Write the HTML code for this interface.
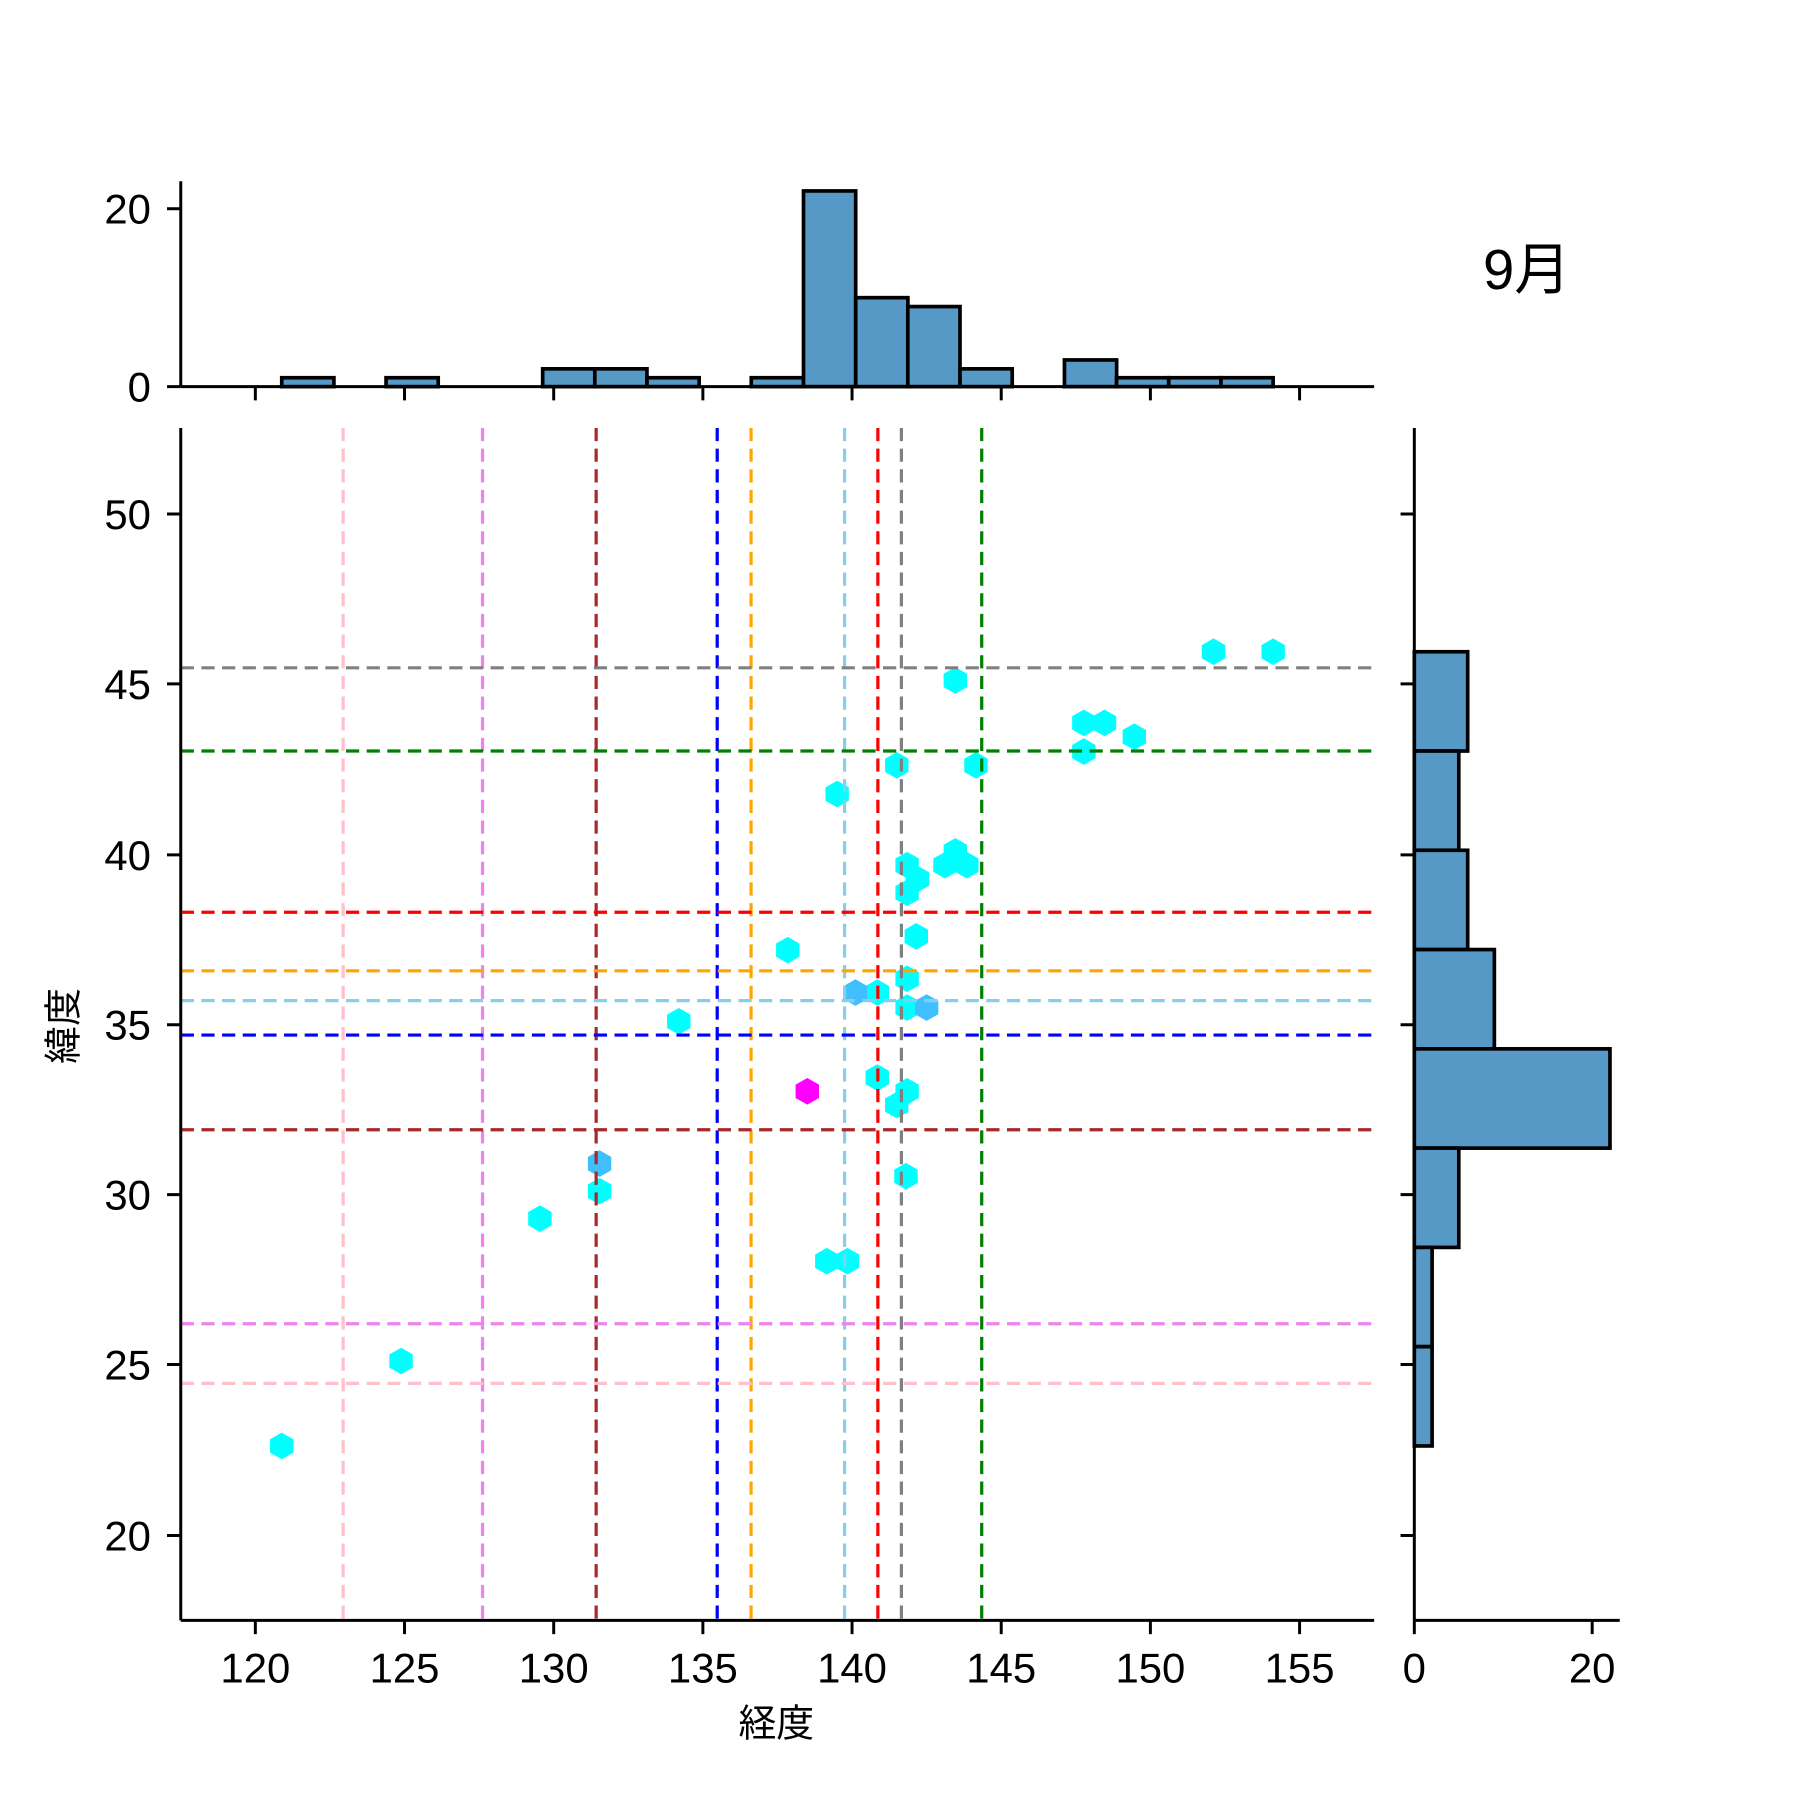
<!DOCTYPE html>
<html><head><meta charset="utf-8"><style>html,body{margin:0;padding:0;background:#fff}svg{display:block}</style></head>
<body>
<svg width="1800" height="1800" viewBox="0 0 1800 1800" xmlns="http://www.w3.org/2000/svg" font-family="'Liberation Sans','Noto Sans CJK JP',sans-serif">
<rect width="1800" height="1800" fill="#fff"/>
<defs><polygon id="h" points="0,-11.6 10.2,-5.8 10.2,5.8 0,11.6 -10.2,5.8 -10.2,-5.8"/></defs>
<g transform="translate(0.6,1) scale(1.1475,1.1477)">
<!-- top histogram bars -->
<g fill="#5799c6" stroke="#000" stroke-width="3.2">
<rect x="245.0" y="328.25" width="45.47" height="7.75"/>
<rect x="335.9" y="328.25" width="45.47" height="7.75"/>
<rect x="472.4" y="320.5" width="45.47" height="15.5"/>
<rect x="517.8" y="320.5" width="45.47" height="15.5"/>
<rect x="563.3" y="328.25" width="45.47" height="7.75"/>
<rect x="654.2" y="328.25" width="45.47" height="7.75"/>
<rect x="699.7" y="165.5" width="45.47" height="170.5"/>
<rect x="745.2" y="258.5" width="45.47" height="77.5"/>
<rect x="790.6" y="266.25" width="45.47" height="69.75"/>
<rect x="836.1" y="320.5" width="45.47" height="15.5"/>
<rect x="927.1" y="312.75" width="45.47" height="23.25"/>
<rect x="972.5" y="328.25" width="45.47" height="7.75"/>
<rect x="1018.0" y="328.25" width="45.47" height="7.75"/>
<rect x="1063.5" y="328.25" width="45.47" height="7.75"/>
</g>
<g stroke="#000" stroke-width="2.6" fill="none">
<line x1="157" y1="157" x2="157" y2="336"/>
<line x1="157" y1="336" x2="1197" y2="336"/>
<line x1="145" y1="181" x2="157" y2="181"/>
<line x1="145" y1="336" x2="157" y2="336"/>
<path d="M222,336v12M352,336v12M482,336v12M612,336v12M742,336v12M872,336v12M1002,336v12M1132,336v12"/>
</g>
<g font-size="36.5" fill="#000" text-anchor="end">
<text x="131" y="194">20</text>
<text x="131" y="349">0</text>
</g>
<text x="1330" y="251" font-size="49" text-anchor="middle" fill="#000">9月</text>

<!-- right histogram -->
<g fill="#5799c6" stroke="#000" stroke-width="3.2">
<rect x="1232" y="567" width="46.5" height="86.5"/>
<rect x="1232" y="653.5" width="38.75" height="86.5"/>
<rect x="1232" y="740" width="46.5" height="86.5"/>
<rect x="1232" y="826.5" width="69.75" height="86.5"/>
<rect x="1232" y="913" width="170.5" height="86.5"/>
<rect x="1232" y="999.5" width="38.75" height="86.5"/>
<rect x="1232" y="1086" width="15.5" height="86.5"/>
<rect x="1232" y="1172.5" width="15.5" height="86.5"/>
</g>
<g stroke="#000" stroke-width="2.6" fill="none">
<line x1="1232" y1="372" x2="1232" y2="1411"/>
<line x1="1232" y1="1411" x2="1411" y2="1411"/>
<path d="M1232,1411v12M1387,1411v12"/>
<path d="M1220,447h12M1220,595h12M1220,744h12M1220,892h12M1220,1040h12M1220,1188h12M1220,1337h12"/>
</g>
<g font-size="36.5" fill="#000" text-anchor="middle">
<text x="1232" y="1465">0</text>
<text x="1387" y="1465">20</text>
</g>

<!-- hexbins -->
<g fill="#00ffff">
<use href="#h" x="1057" y="567"/><use href="#h" x="1109" y="567"/><use href="#h" x="832" y="592"/>
<use href="#h" x="944" y="629"/><use href="#h" x="962" y="629"/><use href="#h" x="988" y="641"/>
<use href="#h" x="944" y="654"/><use href="#h" x="781" y="666"/><use href="#h" x="850" y="666"/>
<use href="#h" x="729" y="691"/><use href="#h" x="832" y="741"/><use href="#h" x="823" y="753"/>
<use href="#h" x="842" y="753"/><use href="#h" x="790" y="753"/><use href="#h" x="799" y="765"/>
<use href="#h" x="790" y="777"/><use href="#h" x="798" y="815"/><use href="#h" x="686" y="827"/>
<use href="#h" x="790" y="852"/><use href="#h" x="764" y="864"/><use href="#h" x="790" y="877"/>
<use href="#h" x="591" y="889"/><use href="#h" x="764" y="938"/><use href="#h" x="790" y="950"/>
<use href="#h" x="781" y="962"/><use href="#h" x="522" y="1037"/><use href="#h" x="789" y="1024"/>
<use href="#h" x="470" y="1061"/><use href="#h" x="720" y="1098"/><use href="#h" x="738" y="1098"/>
<use href="#h" x="349" y="1185"/><use href="#h" x="245" y="1259"/>
</g>
<g fill="#40bfff">
<use href="#h" x="745" y="864"/><use href="#h" x="807" y="877"/><use href="#h" x="522" y="1013"/>
</g>
<use href="#h" x="703" y="950" fill="#ff00ff"/>

<!-- reference lines -->
<g stroke-width="2.8" stroke-dasharray="11.5,6.5" fill="none">
<line x1="298.5" y1="372" x2="298.5" y2="1411" stroke="#ffc0cb"/>
<line x1="420" y1="372" x2="420" y2="1411" stroke="#ee82ee"/>
<line x1="519" y1="372" x2="519" y2="1411" stroke="#a52a2a"/>
<line x1="624.5" y1="372" x2="624.5" y2="1411" stroke="#0000ff"/>
<line x1="654" y1="372" x2="654" y2="1411" stroke="#ffa500"/>
<line x1="735.5" y1="372" x2="735.5" y2="1411" stroke="#87ceeb"/>
<line x1="764.5" y1="372" x2="764.5" y2="1411" stroke="#ff0000"/>
<line x1="785" y1="372" x2="785" y2="1411" stroke="#808080"/>
<line x1="855" y1="372" x2="855" y2="1411" stroke="#008000"/>
<line x1="157" y1="581" x2="1197" y2="581" stroke="#808080"/>
<line x1="157" y1="653.5" x2="1197" y2="653.5" stroke="#008000"/>
<line x1="157" y1="794" x2="1197" y2="794" stroke="#ff0000"/>
<line x1="157" y1="845" x2="1197" y2="845" stroke="#ffa500"/>
<line x1="157" y1="871" x2="1197" y2="871" stroke="#87ceeb"/>
<line x1="157" y1="901" x2="1197" y2="901" stroke="#0000ff"/>
<line x1="157" y1="983.5" x2="1197" y2="983.5" stroke="#a52a2a"/>
<line x1="157" y1="1152.5" x2="1197" y2="1152.5" stroke="#ee82ee"/>
<line x1="157" y1="1204.5" x2="1197" y2="1204.5" stroke="#ffc0cb"/>
</g>

<!-- main axes -->
<g stroke="#000" stroke-width="2.6" fill="none">
<line x1="157" y1="372" x2="157" y2="1411"/>
<line x1="157" y1="1411" x2="1197" y2="1411"/>
<path d="M145,447h12M145,595h12M145,744h12M145,892h12M145,1040h12M145,1188h12M145,1337h12"/>
<path d="M222,1411v12M352,1411v12M482,1411v12M612,1411v12M742,1411v12M872,1411v12M1002,1411v12M1132,1411v12"/>
</g>
<g font-size="36.5" fill="#000" text-anchor="end">
<text x="131" y="460">50</text><text x="131" y="608">45</text><text x="131" y="757">40</text>
<text x="131" y="905">35</text><text x="131" y="1053">30</text><text x="131" y="1201">25</text><text x="131" y="1350">20</text>
</g>
<g font-size="36.5" fill="#000" text-anchor="middle">
<text x="222" y="1465">120</text><text x="352" y="1465">125</text><text x="482" y="1465">130</text>
<text x="612" y="1465">135</text><text x="742" y="1465">140</text><text x="872" y="1465">145</text>
<text x="1002" y="1465">150</text><text x="1132" y="1465">155</text>
</g>
<text x="676" y="1512" font-size="33" text-anchor="middle" fill="#000">経度</text>
<text transform="translate(66,893) rotate(-90)" font-size="33" text-anchor="middle" fill="#000">緯度</text>
</g>
</svg>
</body></html>
